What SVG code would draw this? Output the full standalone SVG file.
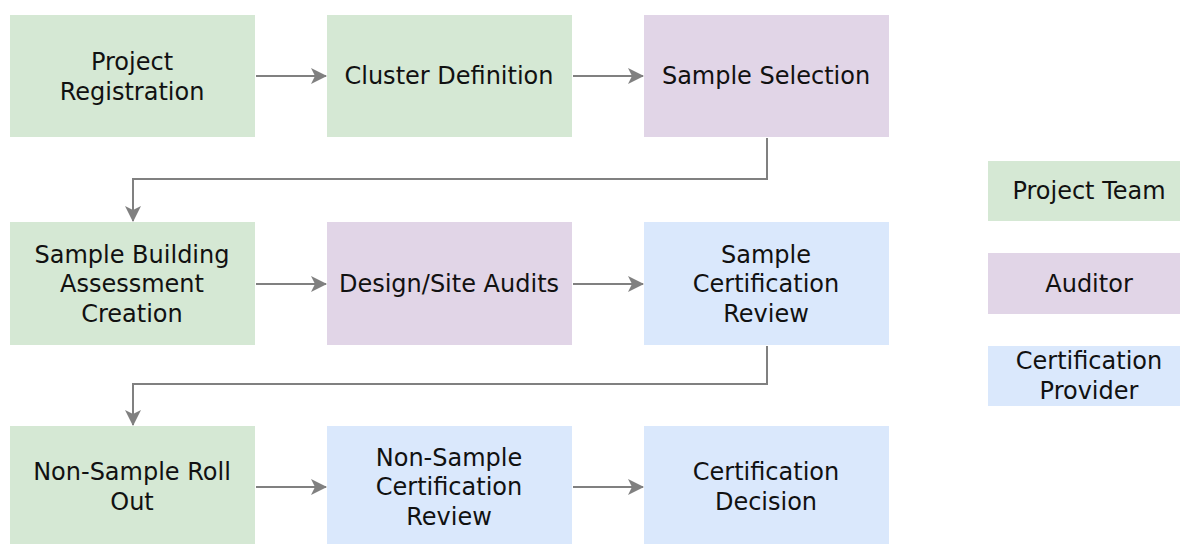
<svg xmlns="http://www.w3.org/2000/svg" width="1180" height="544" viewBox="0 0 1180 544">
<defs>
<marker id="ah" markerWidth="16" markerHeight="16" refX="15" refY="8" orient="auto" markerUnits="userSpaceOnUse">
<path d="M0,0 L16,8 L0,16 L4,8 Z" fill="#808080"/>
</marker>
<style>
.g{fill:#d5e8d4}.p{fill:#e1d5e7}.b{fill:#dae8fc}
text{font-family:"DejaVu Sans",Verdana,sans-serif;font-size:24px;fill:#111;text-anchor:middle}
.c{fill:none;stroke:#808080;stroke-width:2;marker-end:url(#ah)}
</style>
</defs>
<rect width="1180" height="544" fill="#fff"/>
<g id="connectors">
<path class="c" d="M256,76 H326"/>
<path class="c" d="M573,76 H643"/>
<path class="c" d="M767,138 V179 H133 V221"/>
<path class="c" d="M256,284 H326"/>
<path class="c" d="M573,284 H643"/>
<path class="c" d="M767,346 V384 H133 V425"/>
<path class="c" d="M256,487 H326"/>
<path class="c" d="M573,487 H643"/>
</g>
<g id="n1"><rect class="g" x="10" y="15" width="245" height="122"/><text x="132" y="70">Project</text><text x="132" y="100">Registration</text></g>
<g id="n2"><rect class="g" x="327" y="15" width="245" height="122"/><text x="449" y="84">Cluster Definition</text></g>
<g id="n3"><rect class="p" x="644" y="15" width="245" height="122"/><text x="766" y="84">Sample Selection</text></g>
<g id="n4"><rect class="g" x="10" y="222" width="245" height="123"/><text x="132" y="263">Sample Building</text><text x="132" y="292">Assessment</text><text x="132" y="322">Creation</text></g>
<g id="n5"><rect class="p" x="327" y="222" width="245" height="123"/><text x="449" y="292">Design/Site Audits</text></g>
<g id="n6"><rect class="b" x="644" y="222" width="245" height="123"/><text x="766" y="263">Sample</text><text x="766" y="292">Certification</text><text x="766" y="322">Review</text></g>
<g id="n7"><rect class="g" x="10" y="426" width="245" height="122"/><text x="132" y="480">Non-Sample Roll</text><text x="132" y="510">Out</text></g>
<g id="n8"><rect class="b" x="327" y="426" width="245" height="122"/><text x="449" y="466">Non-Sample</text><text x="449" y="495">Certification</text><text x="449" y="525">Review</text></g>
<g id="n9"><rect class="b" x="644" y="426" width="245" height="122"/><text x="766" y="480">Certification</text><text x="766" y="510">Decision</text></g>
<g id="l1"><rect class="g" x="988" y="161" width="202" height="60"/><text x="1089" y="199">Project Team</text></g>
<g id="l2"><rect class="p" x="988" y="253" width="202" height="61"/><text x="1089" y="292">Auditor</text></g>
<g id="l3"><rect class="b" x="988" y="346" width="202" height="60"/><text x="1089" y="369">Certification</text><text x="1089" y="399">Provider</text></g>
</svg>
